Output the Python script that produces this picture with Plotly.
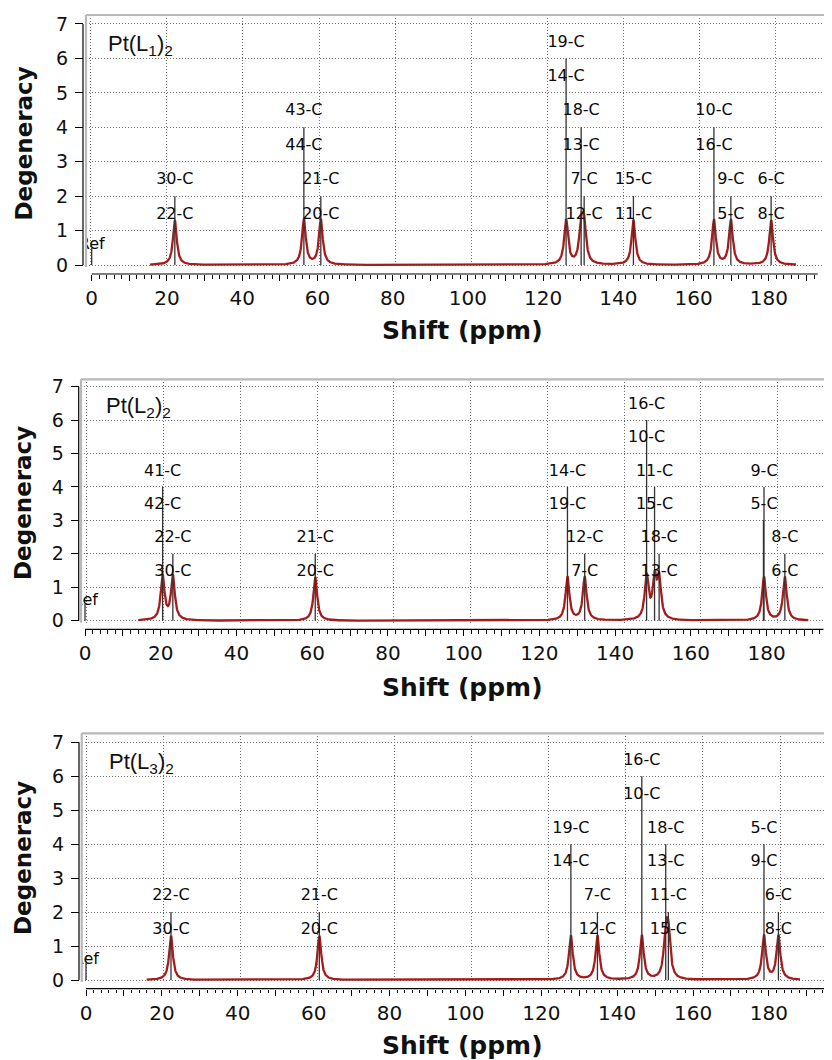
import numpy as np
import plotly.graph_objects as go

# ---------------- data ----------------
# Panel 1 : Pt(L1)2
p1_shift = [22.1, 56.4, 60.9, 126.1, 130.1, 130.9, 144.0, 165.4, 169.9, 180.6]
p1_degen = [2, 4, 2, 6, 4, 2, 2, 4, 2, 2]
p1_upper = ['30-C', '43-C', '21-C', '19-C', '18-C', '7-C', '15-C', '10-C', '9-C', '6-C']
p1_lower = ['22-C', '44-C', '20-C', '14-C', '13-C', '12-C', '11-C', '16-C', '5-C', '8-C']
p1_amp = [1.30, 1.32, 1.32, 1.30, 1.07, 1.07, 1.30, 1.30, 1.30, 1.30]
p1_span = [15.5, 187.2]
p1_extra_shift = []
p1_extra_degen = []

# Panel 2 : Pt(L2)2
p2_shift = [20.5, 23.2, 60.8, 127.4, 131.95, 148.3, 150.4, 151.6, 179.3, 184.8]
p2_degen = [4, 2, 2, 4, 2, 6, 4, 2, 4, 2]
p2_upper = ['41-C', '22-C', '21-C', '14-C', '12-C', '16-C', '11-C', '18-C', '9-C', '8-C']
p2_lower = ['42-C', '30-C', '20-C', '19-C', '7-C', '10-C', '15-C', '13-C', '5-C', '6-C']
p2_amp = [1.32, 1.32, 1.30, 1.30, 1.30, 1.30, 1.17, 1.17, 1.30, 1.30]
p2_span = [14.1, 191.0]
p2_extra_shift = [179.15]
p2_extra_degen = [3]

# Panel 3 : Pt(L3)2
p3_shift = [22.4, 61.5, 127.8, 134.8, 146.5, 152.8, 153.5, 178.7, 182.5]
p3_degen = [2, 2, 4, 2, 6, 4, 2, 4, 2]
p3_upper = ['22-C', '21-C', '19-C', '7-C', '16-C', '18-C', '11-C', '5-C', '6-C']
p3_lower = ['30-C', '20-C', '14-C', '12-C', '10-C', '13-C', '15-C', '9-C', '8-C']
p3_amp = [1.30, 1.30, 1.30, 1.30, 1.30, 1.23, 1.23, 1.30, 1.30]
p3_span = [16.0, 188.2]
p3_extra_shift = []
p3_extra_degen = []

panel_names = ['Pt(L<sub>1</sub>)<sub>2</sub>', 'Pt(L<sub>2</sub>)<sub>2</sub>', 'Pt(L<sub>3</sub>)<sub>2</sub>']

ref_shift = 0.0
ref_height = 0.5
ref_label = 'Ref'
line_hwhm = 0.6   # Lorentzian half width (ppm) of the broadened curve

x_dtick = 10
x_label_step = 2
x_gridvals = [0, 20, 40, 60, 80, 100, 120, 140, 160, 180]
y_tickvals = [0, 1, 2, 3, 4, 5, 6, 7]
y_ticktext = ['0', '1', '2', '3', '4', '5', '6', '7']

x_title = 'Shift (ppm)'
y_title = 'Degeneracy'

data = [
    dict(shift=p1_shift, degen=p1_degen, upper=p1_upper, lower=p1_lower, amp=p1_amp, span=p1_span,
         xs=p1_extra_shift, xd=p1_extra_degen),
    dict(shift=p2_shift, degen=p2_degen, upper=p2_upper, lower=p2_lower, amp=p2_amp, span=p2_span,
         xs=p2_extra_shift, xd=p2_extra_degen),
    dict(shift=p3_shift, degen=p3_degen, upper=p3_upper, lower=p3_lower, amp=p3_amp, span=p3_span,
         xs=p3_extra_shift, xd=p3_extra_degen),
]

# ---------------- layout geometry (screen pixels) ----------------
OFF = 8                  # default page body margin
SW = 832                 # screen width
FW, FH = 824, 1052       # figure size so that it ends at the window edge


def fx(sx):
    return (sx - OFF) / FW


def fy(sy):
    return 1 - (sy - OFF) / FH


geo = [
    dict(left=86, top=15, bottom=267, y0=265, ypp=34.43, t0=91.7, tk=3.762, g0=90.7, gk=3.806,
         yax_x=83, xax_y=274, ax_end=193, minor_end=192, title_y=331, deg_y=143.5, lab_x=106, lab_y=44.5),
    dict(left=81, top=379.3, bottom=622.7, y0=620.7, ypp=33.43, t0=85, tk=3.787, g0=86.7, gk=3.839,
         yax_x=78.7, xax_y=629.3, ax_end=195, minor_end=194, title_y=687, deg_y=503, lab_x=104.3, lab_y=407),
    dict(left=81.7, top=733.3, bottom=982, y0=980, ypp=33.96, t0=86, tk=3.794, g0=86, gk=3.856,
         yax_x=79, xax_y=988.7, ax_end=195, minor_end=194, title_y=1045, deg_y=858, lab_x=107.3, lab_y=763),
]

CURVE = '#a61c1c'
STICK = '#333333'
GRID = '#6e6e6e'
FRAME = '#b8b8b8'
LABEL_FONT = dict(family='DejaVu Sans', size=16, color='#0a0a0a')
XTICK_FONT = dict(family='DejaVu Sans', size=20, color='#111111')
YTICK_FONT = dict(family='DejaVu Sans', size=19, color='#111111')

fig = go.Figure()
layout = {}
shapes = []
annotations = []

for i, (d, g) in enumerate(zip(data, geo)):
    n = i + 1
    xa = 'x' if n == 1 else f'x{n}'
    ya = 'y' if n == 1 else f'y{n}'
    xg = f'x{n + 3}'

    # broadened spectrum (Lorentzian sum of the read peaks)
    xs = np.arange(d['span'][0], d['span'][1] + 1e-9, 0.05)
    ys = np.zeros_like(xs)
    for s, a in zip(d['shift'], d['amp']):
        ys += a / (1.0 + ((xs - s) / line_hwhm) ** 2)
    fig.add_trace(go.Scatter(x=xs, y=ys, mode='lines', line=dict(color=CURVE, width=2.3),
                             xaxis=xa, yaxis=ya, hoverinfo='skip', showlegend=False))

    # sticks
    sx, sy = [], []
    for s, h in zip(d['shift'] + d['xs'] + [ref_shift], d['degen'] + d['xd'] + [ref_height]):
        sx += [s, s, None]
        sy += [0, h, None]
    fig.add_trace(go.Scatter(x=sx, y=sy, mode='lines', line=dict(color=STICK, width=1.3),
                             xaxis=xa, yaxis=ya, hoverinfo='skip', showlegend=False))

    # labels
    fig.add_trace(go.Scatter(x=d['shift'], y=[h + 0.46 for h in d['degen']], text=d['upper'],
                             mode='text', textfont=LABEL_FONT, textposition='middle center',
                             cliponaxis=True, xaxis=xa, yaxis=ya, hoverinfo='skip', showlegend=False))
    fig.add_trace(go.Scatter(x=d['shift'], y=[h - 0.54 for h in d['degen']], text=d['lower'],
                             mode='text', textfont=LABEL_FONT, textposition='middle center',
                             cliponaxis=True, xaxis=xa, yaxis=ya, hoverinfo='skip', showlegend=False))
    fig.add_trace(go.Scatter(x=[ref_shift], y=[ref_height + 0.08], text=[ref_label],
                             mode='text', textfont=LABEL_FONT, textposition='middle center',
                             cliponaxis=True, xaxis=xa, yaxis=ya, hoverinfo='skip', showlegend=False))
    # helper (empty) trace so the grid axis gets drawn
    fig.add_trace(go.Scatter(x=[None], y=[None], mode='lines', xaxis=xg, yaxis=ya,
                             hoverinfo='skip', showlegend=False))

    L = g['left']
    dom_x = [fx(L), 1.0]
    dom_y = [fy(g['bottom']), fy(g['top'])]
    tick_range = [(L - g['t0']) / g['tk'], (SW - g['t0']) / g['tk']]
    grid_range = [(L - g['g0']) / g['gk'], (SW - g['g0']) / g['gk']]
    y_range = [(g['y0'] - g['bottom']) / g['ypp'], (g['y0'] - g['top']) / g['ypp']]
    minor_vals = [v for v in range(2, g['minor_end'] + 1, 2) if v % x_dtick != 0]

    kx = 'xaxis' if n == 1 else f'xaxis{n}'
    ky = 'yaxis' if n == 1 else f'yaxis{n}'
    layout[kx] = dict(domain=dom_x, range=tick_range, anchor='free', position=fy(g['xax_y']),
                      showgrid=False, zeroline=False, showline=False,
                      ticks='outside', ticklen=6, tickwidth=1, tickcolor='black',
                      tickmode='linear', tick0=0, dtick=x_dtick, ticklabelstep=x_label_step,
                      tickfont=XTICK_FONT, ticklabelstandoff=0,
                      minor=dict(tickmode='array', tickvals=minor_vals, ticks='outside', ticklen=3.5,
                                 tickwidth=1, tickcolor='black', showgrid=False))
    layout[f'xaxis{n + 3}'] = dict(overlaying=xa, anchor=ya, range=grid_range,
                                   showgrid=True, gridcolor=GRID, gridwidth=1, griddash='1px,2px',
                                   tickmode='array', tickvals=x_gridvals, showticklabels=False,
                                   ticks='', zeroline=False, showline=False)
    layout[ky] = dict(domain=dom_y, range=y_range, anchor='free', position=fx(g['yax_x']),
                      showgrid=True, gridcolor=GRID, gridwidth=1, griddash='1px,2px',
                      zeroline=False, showline=False,
                      ticks='outside', ticklen=8, tickwidth=1, tickcolor='black',
                      tickmode='array', tickvals=y_tickvals, ticktext=y_ticktext, tickfont=YTICK_FONT,
                      ticklabelstandoff=3)

    # frame (top + left, light grey)
    shapes.append(dict(type='line', xref='paper', yref='paper', x0=fx(L), x1=1.0,
                       y0=fy(g['top']), y1=fy(g['top']), line=dict(color=FRAME, width=2.2)))
    shapes.append(dict(type='line', xref='paper', yref='paper', x0=fx(L), x1=fx(L),
                       y0=fy(g['top']), y1=fy(g['bottom']), line=dict(color=FRAME, width=2.2)))
    # axis lines
    shapes.append(dict(type='line', xref='paper', yref=ya, x0=fx(g['yax_x']), x1=fx(g['yax_x']),
                       y0=y_tickvals[0], y1=y_tickvals[-1], line=dict(color='black', width=1.2)))
    shapes.append(dict(type='line', xref=xa, yref='paper', x0=0, x1=g['ax_end'],
                       y0=fy(g['xax_y']), y1=fy(g['xax_y']), line=dict(color='black', width=1.2)))

    annotations.append(dict(text=panel_names[i], xref='paper', yref='paper', x=fx(g['lab_x']),
                            y=fy(g['lab_y']), xanchor='left', yanchor='middle', showarrow=False,
                            font=dict(family='Liberation Sans', size=22, color='#111111')))
    annotations.append(dict(text='<b>' + y_title + '</b>', xref='paper', yref='paper', x=fx(23),
                            y=fy(g['deg_y']), xanchor='center', yanchor='middle', textangle=-90,
                            showarrow=False, font=dict(family='DejaVu Sans', size=23, color='#111111')))
    annotations.append(dict(text='<b>' + x_title + '</b>', xref='paper', yref='paper', x=fx(462),
                            y=fy(g['title_y']), xanchor='center', yanchor='middle',
                            showarrow=False, font=dict(family='DejaVu Sans', size=25, color='#111111')))

fig.update_layout(width=FW, height=FH, margin=dict(l=0, r=0, t=0, b=0, autoexpand=False),
                  paper_bgcolor='white', plot_bgcolor='white', showlegend=False,
                  shapes=shapes, annotations=annotations, **layout)

fig.write_html('out.html')
